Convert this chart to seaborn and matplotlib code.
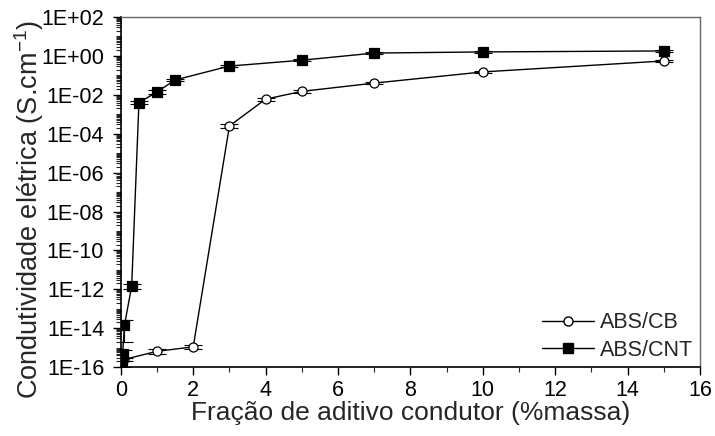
import numpy as np
import pandas as pd
import matplotlib
matplotlib.use("Agg")
import matplotlib.pyplot as plt
from matplotlib.ticker import FixedLocator, MultipleLocator, LogLocator, FuncFormatter, NullFormatter
from matplotlib.lines import Line2D
import seaborn as sns

# Electrical conductivity (S/cm) versus conductive filler content (wt%)
cb_frac = [0.1, 1, 2, 3, 4, 5, 7, 10, 15]
cb_cond = [2.5e-16, 6.5e-16, 1.1e-15, 2.5e-4, 6.0e-3, 1.5e-2, 4.0e-2, 1.5e-1, 5.5e-1]
cb_err = [0.5e-16, 1.6e-16, 2.5e-16, 0.6e-4, 1.0e-3, 2.5e-3, 6.0e-3, 2.0e-2, 7.0e-2]

cnt_frac = [0.02, 0.05, 0.1, 0.3, 0.5, 1, 1.5, 3, 5, 7, 10, 15]
cnt_cond = [2.0e-16, 5.0e-16, 1.4e-14, 1.5e-12, 4.0e-3, 1.4e-2, 5.8e-2, 3.0e-1, 6.0e-1, 1.4, 1.6, 1.8]
cnt_err = [1.0e-16, 3.0e-16, 1.2e-14, 0.4e-12, 0.6e-3, 3.0e-3, 0.8e-2, 0.4e-1, 0.8e-1, 0.2, 0.2, 0.25]

series_names = ["ABS/CB", "ABS/CNT"]
y_ticks = [1e-16, 1e-14, 1e-12, 1e-10, 1e-8, 1e-6, 1e-4, 1e-2, 1e0, 1e2]
x_label = "Fração de aditivo condutor (%massa)"
y_label = "Condutividade elétrica (S.cm$^{\\mathregular{-1}}$)"

df = pd.concat([
    pd.DataFrame({"frac": cb_frac, "cond": cb_cond, "serie": series_names[0]}),
    pd.DataFrame({"frac": cnt_frac, "cond": cnt_cond, "serie": series_names[1]}),
], ignore_index=True)

sns.set_style("ticks")
plt.rcParams["font.family"] = ["Liberation Sans", "DejaVu Sans"]
plt.rcParams["mathtext.fontset"] = "custom"
plt.rcParams["mathtext.rm"] = "Liberation Sans"

fig = plt.figure(figsize=(7.15, 4.36), dpi=100)
ax = fig.add_axes([0.169, 0.158, 0.810, 0.803])

styles = {
    series_names[0]: dict(marker="o", mfc="white"),
    series_names[1]: dict(marker="s", mfc="black"),
}

# error bars first, then lines and markers on top
ax.errorbar(cb_frac, cb_cond, yerr=cb_err, fmt="none", ecolor="black",
            elinewidth=0.8, capsize=6.5, capthick=0.8, zorder=2)
ax.errorbar(cnt_frac, cnt_cond, yerr=cnt_err, fmt="none", ecolor="black",
            elinewidth=0.8, capsize=6.5, capthick=0.8, zorder=2)

sns.lineplot(data=df, x="frac", y="cond", hue="serie", style="serie",
             palette={n: "black" for n in series_names},
             markers={n: styles[n]["marker"] for n in series_names},
             dashes=False, sort=False, estimator=None, linewidth=1.0,
             markersize=6.5, legend=False, ax=ax, zorder=3)

for line, name in zip(ax.get_lines()[-2:], series_names):
    line.set_markerfacecolor(styles[name]["mfc"])
    line.set_markeredgecolor("black")
    line.set_markeredgewidth(0.9)

ax.set_yscale("log")
ax.set_xlim(0, 16)
ax.set_ylim(1e-16, 1e2)

ax.xaxis.set_major_locator(MultipleLocator(2))
ax.xaxis.set_minor_locator(MultipleLocator(1))
ax.yaxis.set_major_locator(FixedLocator(y_ticks))
ax.yaxis.set_major_formatter(FuncFormatter(
    lambda v, p: "1E{:+03d}".format(int(round(np.log10(v))))))
ax.yaxis.set_minor_locator(LogLocator(base=10, subs=np.arange(1, 10), numticks=200))
ax.yaxis.set_minor_formatter(NullFormatter())

ax.tick_params(axis="both", which="major", direction="out", length=6, width=1,
               labelsize=15.5, colors="black", top=False, right=False)
ax.tick_params(axis="y", which="major", pad=6)
ax.tick_params(axis="x", which="major", pad=3)
ax.tick_params(axis="both", which="minor", direction="out", length=3.5, width=0.8,
               top=False, right=False)

for side in ["left", "bottom"]:
    ax.spines[side].set_color("black")
    ax.spines[side].set_linewidth(1.2)
for side in ["top", "right"]:
    ax.spines[side].set_visible(True)
    ax.spines[side].set_color("#666666")
    ax.spines[side].set_linewidth(1.0)

ax.set_xlabel(x_label, fontsize=19, labelpad=0)
ax.set_ylabel(y_label, fontsize=19.5)
ax.yaxis.set_label_coords(-0.13, 0.45)

handles = [Line2D([], [], color="black", lw=1.0, marker=styles[n]["marker"],
                  mfc=styles[n]["mfc"], mec="black", ms=6.5) for n in series_names]
ax.legend(handles, series_names, loc="lower right", frameon=False, fontsize=15.5,
          handlelength=2.4, handletextpad=0.3, borderaxespad=0.0, borderpad=0.3,
          labelspacing=0.3)

fig.savefig("out.png", dpi=100)
